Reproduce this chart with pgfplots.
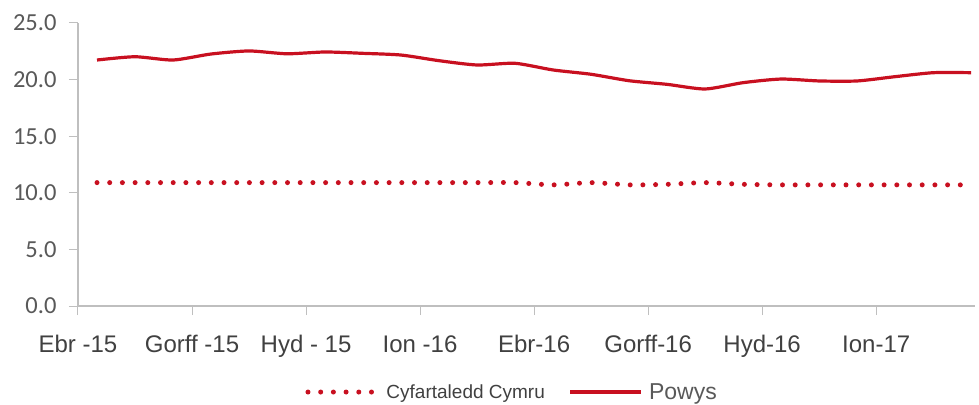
\documentclass[border=0pt]{standalone}
\usepackage{fontspec}
\setmainfont{Liberation Sans}
\newfontfamily\carlito{Carlito}
\usepackage{pgfplots}
\pgfplotsset{compat=1.18}
\definecolor{wred}{RGB}{200,16,32}
\definecolor{axgray}{RGB}{191,191,191}
\definecolor{lblgray}{RGB}{89,89,89}
\definecolor{xlbl}{RGB}{64,64,64}
\begin{document}
\begin{tikzpicture}
\path (-78pt,-97pt) rectangle (901pt,306pt);
\begin{axis}[
  at={(0pt,0pt)}, anchor=south west, scale only axis,
  width=897pt, height=283pt,
  xmin=0, xmax=23.6, ymin=0, ymax=25,
  axis x line*=bottom, axis y line*=left,
  axis line style={-, draw=axgray, line width=1.2pt},
  xtick={0,3,...,21},
  xticklabels={Ebr -15, Gorff -15, Hyd - 15, Ion -16, Ebr-16, Gorff-16, Hyd-16, Ion-17},
  ytick={0,5,...,25},
  tick align=outside, major tick length=9pt,
  tick style={draw=axgray, line width=1pt},
  /pgf/number format/assume math mode=true,
  yticklabel style={font=\carlito\fontsize{24.5}{24.5}\selectfont, text=lblgray, xshift=-9pt,
    /pgf/number format/fixed, /pgf/number format/fixed zerofill, /pgf/number format/precision=1},
  xticklabel style={font=\fontsize{24}{24}\selectfont, text=xlbl, yshift=-17pt},
  legend style={at={(0.484,-0.304)}, anchor=center, draw=none, fill=none,
    legend columns=2, /tikz/every even column/.append style={column sep=22pt}},
  legend cell align=left,
]
\addplot[wred, line width=5pt, line cap=round, dash pattern=on 0pt off 12.7pt, smooth, tension=0.4,
  legend image code/.code={\draw[wred, line width=5pt, line cap=round, dash pattern=on 0pt off 12.7pt] (0pt,0pt) -- (66pt,0pt);}]
coordinates {
(0.5,10.9) (1.5,10.9) (2.5,10.9) (3.5,10.9) (4.5,10.9) (5.5,10.9)
(6.5,10.9) (7.5,10.9) (8.5,10.9) (9.5,10.9) (10.5,10.9) (11.5,10.9)
(12.5,10.7) (13.5,10.9) (14.5,10.7) (15.5,10.75) (16.5,10.9) (17.5,10.75)
(18.5,10.7) (19.5,10.7) (20.5,10.7) (21.5,10.7) (22.5,10.7) (23.5,10.7)
};
\addlegendentry{\hspace{8pt}\fontsize{19}{19}\selectfont\color{xlbl}Cyfartaledd Cymru}
\addplot[wred, line width=3.2pt, smooth, tension=0.4,
  legend image code/.code={\draw[wred, line width=3.2pt] (0pt,0pt) -- (71pt,0pt);}]
coordinates {
(0.5,21.73) (1.5,22.02) (2.5,21.73) (3.5,22.26) (4.5,22.53) (5.5,22.28)
(6.5,22.44) (7.5,22.32) (8.5,22.17) (9.5,21.67) (10.5,21.29) (11.5,21.44)
(12.5,20.85) (13.5,20.47) (14.5,19.9) (15.5,19.58) (16.5,19.17) (17.5,19.73)
(18.5,20.05) (19.5,19.88) (20.5,19.88) (21.5,20.26) (22.5,20.61) (23.5,20.61)
};
\addlegendentry{\hspace{4pt}\fontsize{23}{23}\selectfont\color{lblgray}Powys}
\end{axis}
\end{tikzpicture}
\end{document}
